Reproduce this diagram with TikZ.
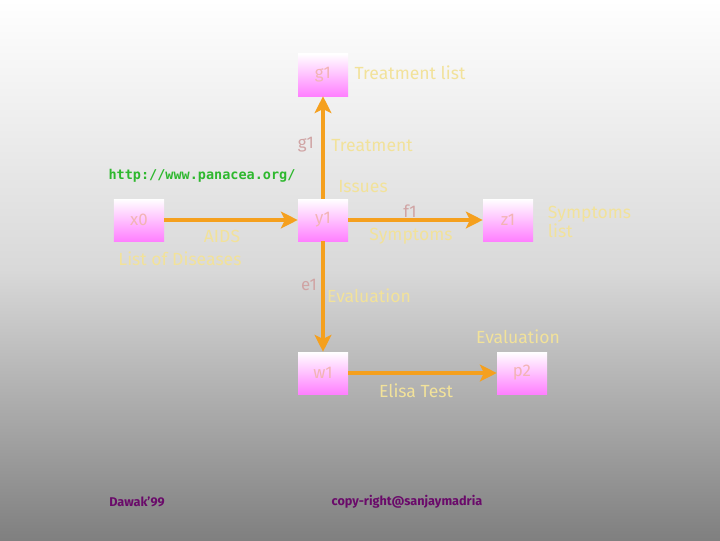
\documentclass[tikz,border=0pt]{standalone}
\usepackage{fontspec}
\setmainfont{Fira Sans}
\setmonofont{DejaVu Sans Mono}
\usetikzlibrary{arrows.meta}
\usetikzlibrary{positioning}

\definecolor{arroworange}{HTML}{F5A01E}
\definecolor{labelyellow}{HTML}{F2E29A}
\definecolor{boxpink}{HTML}{FF80FF}
\definecolor{boxtext}{HTML}{F2B4B4}
\definecolor{urlgreen}{HTML}{2EB82E}
\definecolor{footpurple}{HTML}{6A0A6A}

\tikzset{
  objbox/.style={minimum width=1.25cm,minimum height=1.05cm,top color=white,
    bottom color=boxpink,text=boxtext,font=\fontsize{12}{13}\selectfont},
  flow/.style={draw=arroworange,line width=2.8pt,
    -{Stealth[length=0.42cm,width=0.42cm,inset=0.1cm,fill=arroworange]}},
  lbl/.style={text=labelyellow,font=\fontsize{12.5}{14}\selectfont},
  oid/.style={text=boxtext!70!gray,font=\fontsize{12}{13}\selectfont}
}

\begin{document}
\begin{tikzpicture}[x=0.025cm,y=-0.025cm]
\shade[top color=white,bottom color=black!50,middle color=black!15] (0,0) rectangle (720,540);
\useasboundingbox (0,0) rectangle (720,540);
\node[objbox] (g1) at (323,75) {g1};
\node[objbox] (x0) at (139,220) {x0};
\node[objbox] (y1) at (323,220) {y1};
\node[objbox] (z1) at (508,220) {z1};
\node[objbox] (w1) at (323,373) {w1};
\node[objbox] (p2) at (522,373) {p2};
\draw[flow] (y1) -- (g1);
\draw[flow] (x0) -- (y1);
\draw[flow] (y1) -- (z1);
\draw[flow] (y1) -- (w1);
\draw[flow] (w1) -- (p2);
\node[lbl] (tl) at (410,73) {Treatment list};
\node[oid] (g1b) at (306,145) {g1};
\node[lbl] (tr) at (372,146) {Treatment};
\node[text=urlgreen,font=\ttfamily\bfseries\fontsize{9.6}{11}\selectfont] (url) at (202,176) {http://www.panacea.org/};
\node[lbl] (iss) at (363,187) {Issues};
\node[oid] (f1) at (410,211) {f1};
\node[lbl] (sym) at (411,236) {Symptoms};
\node[lbl,align=left,anchor=west] (sl) at (543,222) {Symptoms\\list};
\node[lbl] (aids) at (222,236) {AIDS};
\node[lbl] (lod) at (180,259) {List of Diseases};
\node[oid] (e1) at (309,285) {e1};
\node[lbl] (ev) at (369,296) {Evaluation};
\node[lbl] (ev2) at (518,337) {Evaluation};
\node[lbl] (et) at (416,391) {Elisa Test};
\node[text=footpurple,font=\small\bfseries] (dw) at (137,502) {Dawak'99};
\node[text=footpurple,font=\small\bfseries] (cr) at (407,502) {copy-right@sanjaymadria};
\end{tikzpicture}
\end{document}
